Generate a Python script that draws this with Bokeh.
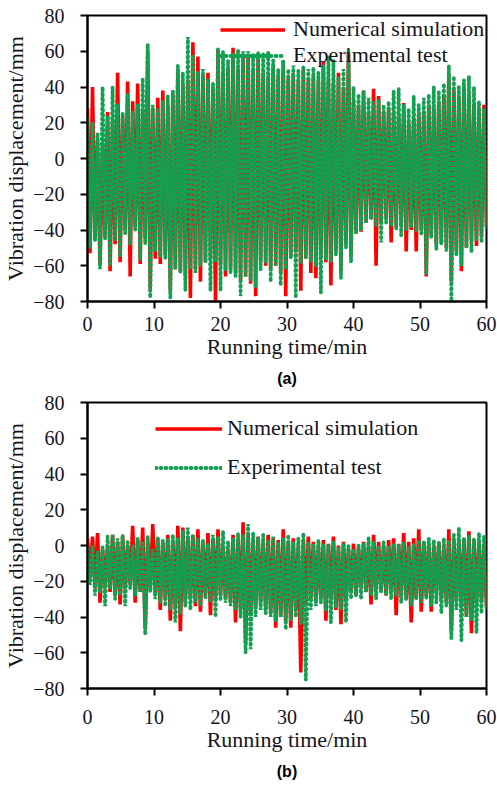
import numpy as np
from bokeh.plotting import figure
from bokeh.layouts import column
from bokeh.models import Legend, LegendItem, Title, FixedTicker
from bokeh.embed import file_html
from bokeh.resources import INLINE

# ---------------- data ----------------
# Each series alternates peak / trough; peaks and troughs listed separately.
x_ticks = [0, 10, 20, 30, 40, 50, 60]
y_ticks = [-80, -60, -40, -20, 0, 20, 40, 60, 80]

# Panel (a)
sim_a_peaks = [28, 40, 10, 8, 26, 22, 48, 24, 43, 32, 42, 28, 60, 28, 34, 38, 30, 36, 50, 42,
               44, 65, 57, 47, 48, 40, 61, 48, 50, 62, 50, 58, 58, 50, 57, 48, 46, 52, 46, 55,
               45, 48, 44, 50, 45, 46, 44, 54, 44, 42, 48, 40, 59, 32, 30, 38, 25, 39, 35, 26,
               28, 25, 24, 31, 20, 22, 26, 26, 30, 28, 32, 36, 47, 38, 35, 40, 36, 30, 28, 30]
sim_a_troughs = [-53, -45, -59, -44, -63, -48, -58, -40, -66, -38, -59, -45, -74, -56, -59, -54, -74, -62, -63, -66,
                 -78, -62, -69, -58, -56, -80, -60, -66, -62, -64, -68, -66, -70, -77, -58, -60, -62, -60, -64, -77,
                 -55, -52, -74, -56, -64, -67, -56, -58, -71, -52, -63, -48, -55, -42, -41, -36, -34, -60, -35, -34,
                 -47, -38, -38, -52, -40, -52, -40, -66, -43, -48, -47, -50, -69, -52, -63, -50, -46, -49, -44, -38]
exp_a_peaks = [22, 20, 14, 40, 24, 40, 30, 26, 36, 26, 30, 45, 64, 30, 28, 32, 35, 38, 52, 48,
               68, 58, 48, 50, 44, 42, 61, 60, 55, 58, 61, 60, 60, 58, 60, 59, 60, 55, 50, 55,
               50, 52, 49, 52, 50, 51, 48, 52, 57, 55, 45, 50, 60, 40, 36, 38, 34, 32, 33, 30,
               32, 38, 39, 30, 28, 35, 30, 34, 36, 40, 38, 42, 52, 46, 40, 44, 46, 40, 32, 28]
exp_a_troughs = [-50, -46, -62, -45, -60, -46, -55, -42, -48, -40, -57, -48, -78, -52, -55, -56, -78, -62, -64, -74,
                 -62, -64, -60, -58, -74, -58, -74, -62, -64, -66, -77, -66, -68, -72, -62, -58, -69, -60, -71, -62,
                 -56, -78, -58, -56, -58, -60, -75, -56, -58, -54, -67, -50, -58, -42, -40, -36, -34, -38, -47, -36,
                 -38, -40, -43, -40, -38, -40, -42, -65, -44, -51, -48, -52, -80, -54, -60, -50, -52, -46, -47, -40]

# Panel (b)
sim_b_peaks = [4, 5, 7, -2, 0, 6, 2, 5, 0, 11, 3, 10, 2, 12, 4, 2, 6, 3, 11, 10,
               4, 6, 9, 2, 7, 4, 9, 0, -2, 6, 4, 13, 6, 3, 5, 2, 6, 4, 3, 9,
               2, 4, 0, 3, 5, 2, 0, 3, 1, 5, 0, 2, -2, 1, -1, 2, 0, 6, 2, 0,
               3, 4, 1, 7, 2, 4, 9, 2, 1, 0, 2, -1, 9, 3, 2, 4, 8, 3, 2, 0]
sim_b_troughs = [-18, -24, -32, -22, -26, -28, -33, -24, -22, -32, -26, -47, -24, -28, -36, -30, -42, -34, -48, -32,
                 -30, -34, -37, -28, -39, -30, -28, -30, -32, -43, -36, -55, -38, -34, -32, -36, -38, -46, -40, -42,
                 -46, -36, -71, -34, -30, -32, -30, -42, -30, -36, -44, -30, -26, -28, -24, -26, -33, -24, -26, -28,
                 -26, -39, -28, -30, -43, -30, -37, -28, -37, -26, -30, -32, -48, -30, -34, -40, -49, -32, -30, -34]
exp_b_peaks = [-2, 0, -3, -1, 5, 6, 4, 6, 2, 0, 4, 2, 5, -2, 5, 3, 4, 6, 4, 8,
               10, 6, 4, 3, 1, 6, 5, 8, 2, 4, 7, 6, 12, 7, 4, 6, 3, 5, 2, 4,
               6, 2, 4, 7, 2, 0, 3, 1, 0, 2, -1, 1, 0, -2, 0, 1, 4, 2, 0, 2,
               0, 1, 0, 2, -1, 1, 3, 2, 4, 3, 2, 4, 3, 6, 10, 4, 5, 4, 7, 5]
exp_b_troughs = [-22, -28, -26, -34, -24, -30, -28, -34, -24, -28, -26, -50, -26, -30, -32, -34, -36, -43, -38, -34,
                 -36, -32, -34, -30, -32, -40, -30, -32, -34, -36, -40, -60, -58, -40, -36, -38, -40, -42, -40, -47,
                 -42, -40, -44, -75, -36, -34, -32, -36, -43, -34, -36, -43, -30, -28, -30, -26, -28, -30, -26, -28,
                 -30, -28, -32, -30, -34, -30, -32, -30, -34, -32, -38, -34, -52, -36, -53, -40, -42, -49, -38, -35]

N_SAMPLES = 160
time_min = np.linspace(0, 60, N_SAMPLES)


def series(peaks, troughs):
    y = np.empty(N_SAMPLES)
    y[0::2] = peaks
    y[1::2] = troughs
    return y


RED = "#FF0000"
GREEN = "#12A150"
SERIF = "Liberation Serif"
TXT = "#141420"


def make_panel(sim_y, exp_y, height, borders, spec, caption):
    left, right, top, bottom = borders
    p = figure(width=497, height=height, x_range=(0, 60), y_range=(-80, 80),
               output_backend="svg", toolbar_location=None,
               min_border_left=left, min_border_right=right,
               min_border_top=top, min_border_bottom=bottom)
    p.grid.visible = False
    p.background_fill_color = "white"
    p.border_fill_color = "white"
    p.outline_line_color = "black"
    p.outline_line_width = 2

    r_sim = p.line(time_min, sim_y, line_color=RED, line_width=3.6)
    r_exp = p.line(time_min, exp_y, line_color=GREEN, line_width=3.8,
                   line_dash="1 4", line_cap="round")

    p.xaxis.ticker = FixedTicker(ticks=x_ticks)
    p.yaxis.ticker = FixedTicker(ticks=y_ticks)
    for ax in (p.xaxis[0], p.yaxis[0]):
        ax.axis_line_width = 2
        ax.axis_line_color = "black"
        ax.major_tick_line_width = 2
        ax.major_tick_line_color = "black"
        ax.major_tick_out = 7
        ax.major_tick_in = 0
        ax.minor_tick_out = 0
        ax.minor_tick_in = 0
        ax.major_label_text_font = SERIF
        ax.major_label_text_font_size = "20px"
        ax.major_label_text_color = TXT
        ax.axis_label_text_font = SERIF
        ax.axis_label_text_font_size = "22px"
        ax.axis_label_text_font_style = "normal"
        ax.axis_label_text_color = TXT
    p.xaxis.axis_label = "Running time/min"
    p.yaxis.axis_label = "Vibration displacement/mm"
    p.xaxis.major_label_standoff = spec["xstand"]
    p.xaxis.axis_label_standoff = 0
    p.yaxis.major_label_standoff = 16
    p.yaxis.axis_label_standoff = 2

    legend = Legend(items=[LegendItem(label="Numerical simulation", renderers=[r_sim]),
                           LegendItem(label="Experimental test", renderers=[r_exp])],
                    location=spec["loc"],
                    background_fill_alpha=0, border_line_alpha=0,
                    padding=0, margin=0, spacing=0,
                    glyph_width=spec["gw"], glyph_height=spec["row"],
                    label_height=spec["row"], label_standoff=spec["stand"],
                    label_text_font=SERIF, label_text_font_size="22px",
                    label_text_color=TXT)
    p.add_layout(legend)

    p.add_layout(Title(text=caption, align="center", offset=-24,
                       standoff=spec["cap_stand"],
                       text_font="Liberation Sans", text_font_style="bold",
                       text_font_size="16px", text_color="black"), "below")
    return p


pa = make_panel(series(sim_a_peaks, sim_a_troughs), series(exp_a_peaks, exp_a_troughs),
                392, (77, 11, 15, 91),
                {"loc": (133, 233), "gw": 65, "row": 25, "stand": 8, "xstand": 8,
                 "cap_stand": 12},
                "(a)")
pb = make_panel(series(sim_b_peaks, sim_b_troughs), series(exp_b_peaks, exp_b_troughs),
                393, (75, 9, 10, 97),
                {"loc": (68, 201.5), "gw": 67, "row": 39, "stand": 5, "xstand": 14,
                 "cap_stand": 12},
                "(b)")

layout = column(pa, pb, spacing=0)
open("out.html", "w").write(file_html(layout, INLINE))
